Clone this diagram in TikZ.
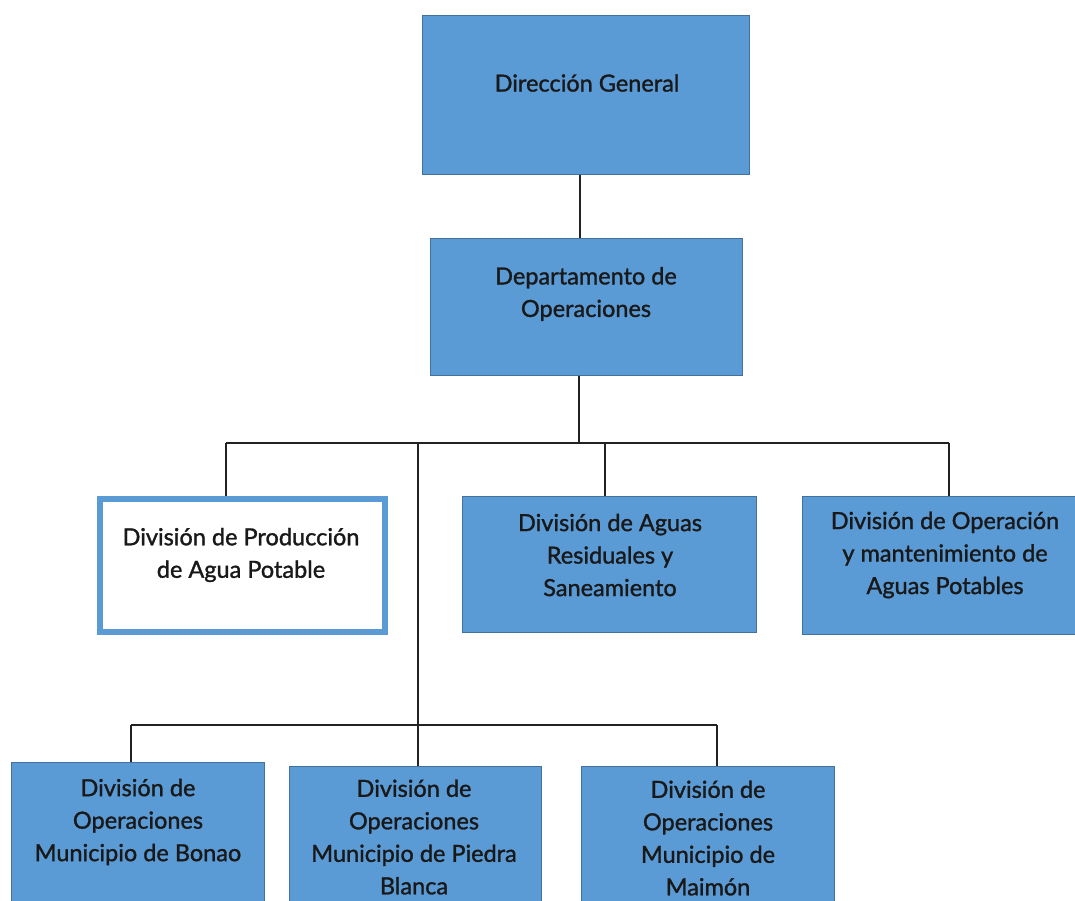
\documentclass[tikz,border=0pt]{standalone}
\usepackage{fontspec}
\setmainfont{Lato}[FakeBold=1.3,AutoFakeBold=1.3]
\definecolor{boxfill}{HTML}{5B9BD5}
\definecolor{boxline}{HTML}{41719C}
\definecolor{connc}{HTML}{222222}
\begin{document}
\begin{tikzpicture}[x=1pt,y=-1pt,
  box/.style={draw=boxline, fill=boxfill, line width=0.8pt, anchor=north west, inner sep=0pt},
  wbox/.style={draw=boxfill, fill=white, line width=6pt, anchor=north west, inner sep=0pt},
  lbl/.style={font=\fontsize{23.5}{32.5}\selectfont\bfseries, align=center, text=black!90, inner sep=0pt},
  conn/.style={draw=connc, line width=1.4pt}]
\useasboundingbox (0,0) rectangle (1075,900);
\clip (0,0) rectangle (1075,900);
% boxes
\node[box, minimum width=327pt, minimum height=159pt] (dg) at (422,15) {};
\node[box, minimum width=312pt, minimum height=137pt] (dep) at (430,238) {};
\node[wbox, minimum width=285pt, minimum height=133pt] (prod) at (97,496) {};
\node[box, minimum width=294pt, minimum height=136pt] (resid) at (462,496) {};
\node[box, minimum width=290pt, minimum height=138pt] (mant) at (802,496) {};
\node[box, minimum width=253pt, minimum height=160pt] (bonao) at (11,762) {};
\node[box, minimum width=252pt, minimum height=160pt] (piedra) at (289,766) {};
\node[box, minimum width=253pt, minimum height=160pt] (maimon) at (581,766) {};
% labels
\node[lbl] (tdg) at (587,83) {Dirección General};
\node[lbl] (tdep) at (586,294) {Departamento de\\Operaciones};
\node[lbl] (tprod) at (241,555) {División de Producción\\de Agua Potable};
\node[lbl] (tresid) at (610,555) {División de Aguas\\Residuales y\\Saneamiento};
\node[lbl] (tmant) at (945,555) {División de Operación\\y mantenimiento de\\Aguas Potables};
\node[lbl] (tbonao) at (138,822) {División de\\Operaciones\\Municipio de Bonao};
\node[lbl] (tpiedra) at (414,837) {División de\\Operaciones\\Municipio de Piedra\\Blanca};
\node[lbl] (tmaimon) at (708,838) {División de\\Operaciones\\Municipio de\\Maimón};
% junction coordinates
\coordinate (a1) at (580,174);
\coordinate (a2) at (580,238);
\coordinate (j0) at (579,443);
\coordinate (jl) at (226,443);
\coordinate (jr) at (949,443);
\coordinate (jm) at (418,443);
\coordinate (jres) at (605,443);
\coordinate (k0) at (418,725);
\coordinate (kl) at (131,725);
\coordinate (kr) at (717,725);
% connectors
\draw[conn] (dg.south -| a1) -- (dep.north -| a2);
\draw[conn] (dep.south -| j0) -- (j0);
\draw[conn] (jl) -- (jr);
\draw[conn] (jl) -- (jl |- prod.north);
\draw[conn] (jres) -- (jres |- resid.north);
\draw[conn] (jr) -- (jr |- mant.north);
\draw[conn] (jm) -- (jm |- piedra.north);
\draw[conn] (kl) -- (kr);
\draw[conn] (kl) -- (kl |- bonao.north);
\draw[conn] (kr) -- (kr |- maimon.north);
\end{tikzpicture}
\end{document}
